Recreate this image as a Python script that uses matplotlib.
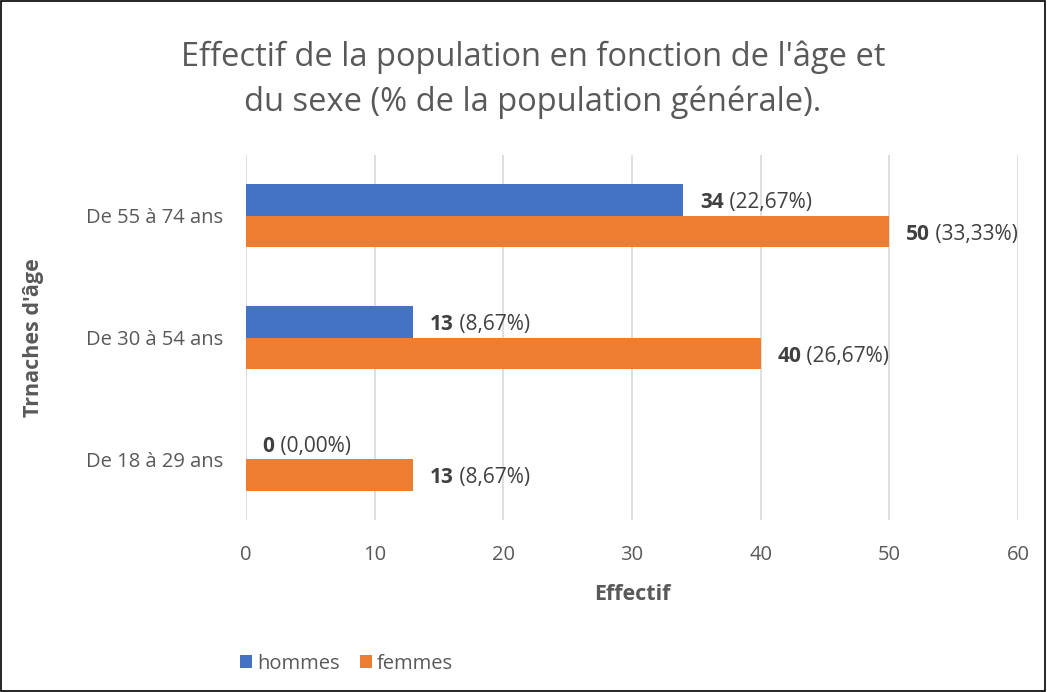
import matplotlib.pyplot as plt
import numpy as np
from matplotlib.patches import Rectangle

plt.rcParams['font.family'] = ['Open Sans', 'DejaVu Sans']

# data
categories = ["De 18 à 29 ans", "De 30 à 54 ans", "De 55 à 74 ans"]
hommes = [0, 13, 34]
femmes = [13, 40, 50]
hommes_pct = ["(0,00%)", "(8,67%)", "(22,67%)"]
femmes_pct = ["(8,67%)", "(26,67%)", "(33,33%)"]
xticks = [0, 10, 20, 30, 40, 50, 60]

blue = "#4472C4"
orange = "#ED7D31"
grey = "#595959"

fig = plt.figure(figsize=(10.47, 6.92), dpi=100)
ax = fig.add_axes([246/1047, 1-520/692, (1018-246)/1047, (520-155)/692])

y = np.arange(len(categories))
h = 0.26
ax.barh(y + h/2, hommes, height=h, color=blue, label="hommes")
ax.barh(y - h/2, femmes, height=h, color=orange, label="femmes")

ax.set_xlim(0, 60)
ax.set_ylim(-0.5, 2.5)
ax.set_xticks(xticks)
ax.set_yticks(y)
ax.set_yticklabels(categories)
ax.tick_params(axis='both', length=0, labelsize=14.5, colors=grey)
ax.tick_params(axis='y', pad=16.5)
ax.tick_params(axis='x', pad=18)
ax.xaxis.grid(True, color="#D9D9D9", linewidth=1.2)
ax.set_axisbelow(True)
for s in ax.spines.values():
    s.set_visible(False)

ax.set_xlabel("Effectif", fontsize=15.5, fontweight='bold', color=grey, labelpad=14)
ax.set_ylabel("Trnaches d'âge", fontsize=15.5, fontweight='bold', color=grey, labelpad=30)

def label(x, yy, num, pct):
    t = ax.annotate(str(num), xy=(x, yy), xytext=(12, -2), textcoords='offset points',
                    fontsize=15, fontweight='bold', color="#404040", va='center', ha='left')
    ax.annotate(" " + pct, xy=(1, 0), xycoords=t, fontsize=15, color="#404040",
                va='bottom', ha='left')

for i in range(len(categories)):
    label(hommes[i], y[i] + h/2, hommes[i], hommes_pct[i])
    label(femmes[i], y[i] - h/2, femmes[i], femmes_pct[i])

fig.text(533/1047, 1-80/692, "Effectif de la population en fonction de l'âge et\ndu sexe (% de la population générale).",
         ha='center', va='center', fontsize=23.5, color=grey, linespacing=1.45)

leg = fig.legend(loc='lower left', bbox_to_anchor=(222/1047, 0/692), ncol=2, frameon=False,
                 fontsize=14.5, handlelength=0.6, handleheight=0.6, handletextpad=0.25,
                 columnspacing=1.0)
for t in leg.get_texts():
    t.set_color(grey)

fig.patches.append(Rectangle((0.001, 0.001), 0.997, 0.997, transform=fig.transFigure,
                             fill=False, edgecolor='black', linewidth=1.2))

fig.savefig("out.png", dpi=100)
